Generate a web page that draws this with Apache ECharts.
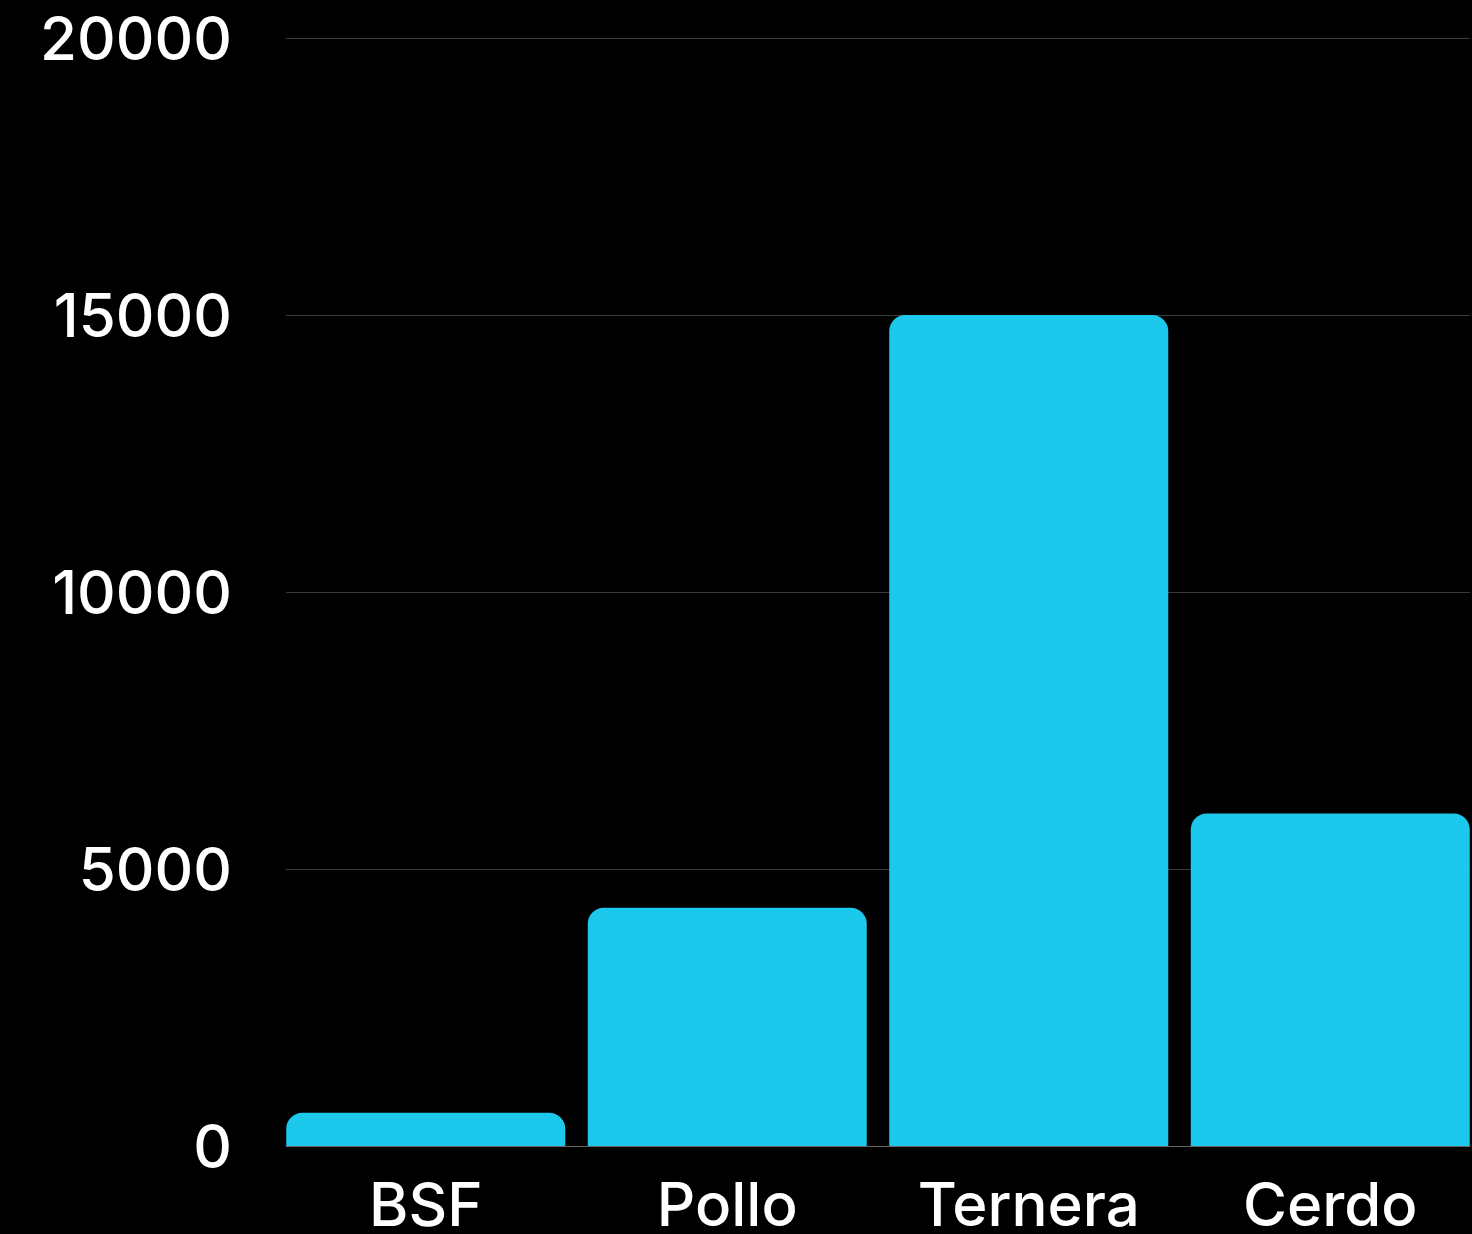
<!DOCTYPE html>
<html>
<head>
<meta charset="utf-8">
<script src="https://cdn.jsdelivr.net/npm/echarts@6/dist/echarts.min.js"></script>
<style>
html,body{margin:0;padding:0;background:#000;}
#chart{width:1472px;height:1234px;}
</style>
</head>
<body>
<div id="chart"></div>
<script>
const categories = ["BSF", "Pollo", "Ternera", "Cerdo"];
const values = [600, 4300, 15000, 6000];
const yTicks = [0, 5000, 10000, 15000, 20000];

const FONT = "Inter";
const chart = echarts.init(document.getElementById('chart'), null, {renderer: 'canvas'});
chart.setOption({
  backgroundColor: '#000',
  animation: false,
  grid: [
    {left: 286, right: 2, top: 38, bottom: 88, outerBoundsMode: 'none', containLabel: false},
    {left: 275, right: -9, top: 38, bottom: 88, outerBoundsMode: 'none', containLabel: false}
  ],
  xAxis: [
    {type: 'category', gridIndex: 0, data: categories,
     axisLine: {show: true, lineStyle: {color: '#666', width: 1}},
     axisTick: {show: false}, axisLabel: {show: false}},
    {type: 'category', gridIndex: 1, data: categories,
     axisLine: {show: false}, axisTick: {show: false},
     axisLabel: {color: '#fff', fontFamily: FONT, fontSize: 60, fontWeight: 500, margin: 32}}
  ],
  yAxis: [
    {type: 'value', gridIndex: 0, min: yTicks[0], max: yTicks[yTicks.length - 1], interval: 5000,
     axisLine: {show: false}, axisTick: {show: false},
     splitLine: {lineStyle: {color: '#3a3a3a', width: 1}},
     axisLabel: {color: '#fff', fontFamily: FONT, fontSize: 60, fontWeight: 500, margin: 54,
                 formatter: v => '{a|' + v + '}',
                 rich: {a: {color: '#fff', fontFamily: FONT, fontSize: 60, fontWeight: 500, padding: [8, 0, 0, 0]}}}},
    {type: 'value', gridIndex: 1, min: yTicks[0], max: yTicks[yTicks.length - 1], interval: 5000,
     show: false}
  ],
  series: [{
    type: 'bar', xAxisIndex: 1, yAxisIndex: 1,
    data: values, barWidth: 279,
    itemStyle: {color: '#1CC8EC', borderRadius: [16, 16, 0, 0]}
  }]
});
</script>
</body>
</html>
